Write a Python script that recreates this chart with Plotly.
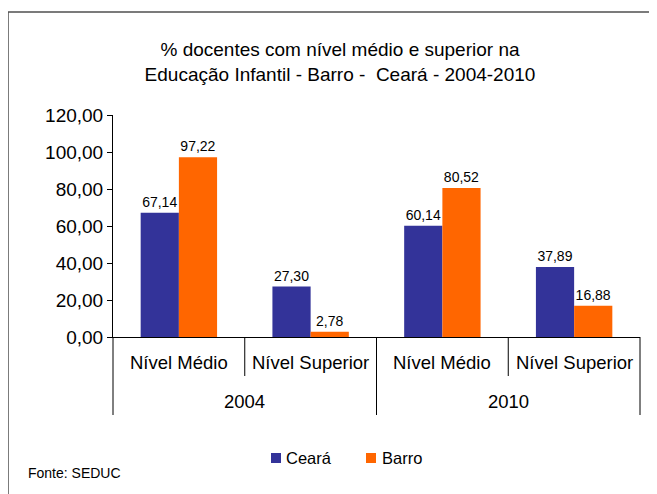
import plotly.graph_objects as go

years = ["2004", "2004", "2010", "2010"]
levels = ["Nível Médio", "Nível Superior", "Nível Médio", "Nível Superior"]
ceara = [67.14, 27.30, 60.14, 37.89]
barro = [97.22, 2.78, 80.52, 16.88]
series_names = ["Ceará", "Barro"]
colors = ["#333399", "#FF6600"]
y_ticks = [0, 20, 40, 60, 80, 100, 120]

# page is offset by the 8px body margin; positions below are given in
# screenshot pixels and converted to figure/paper coordinates
OFF = 8
W, H = 657, 494
L, R, T, B = 113 - OFF, W - (640 - OFF), 115 - OFF, H - (337 - OFF)
pw = W - L - R
ph = H - T - B


def px_x(x):
    return (x - OFF - L) / pw


def px_y(y):
    return (H - B - (y - OFF)) / ph


FONT = "Liberation Sans, Arial, sans-serif"

fig = go.Figure()
for name, vals, col in zip(series_names, [ceara, barro], colors):
    fig.add_trace(go.Bar(
        x=[years, levels], y=vals, name=name,
        marker=dict(color=col, line=dict(width=0)),
        texttemplate="%{y:.2f}", textposition="outside",
        textfont=dict(size=14, color="black", family=FONT),
        cliponaxis=False, showlegend=False,
    ))

fig.update_layout(
    width=W, height=H,
    margin=dict(l=L, r=R, t=T, b=B, autoexpand=False),
    paper_bgcolor="white", plot_bgcolor="white",
    separators=",.",
    font=dict(family=FONT, color="black"),
    barmode="group", bargap=0.42, bargroupgap=0,
    title=dict(
        text="% docentes com nível médio e superior na<br>Educação Infantil - Barro -  Ceará - 2004-2010",
        x=(340 - OFF) / W, xanchor="center", xref="container",
        y=1 - (56 - OFF) / H, yanchor="middle", yref="container",
        font=dict(size=19, family=FONT, color="black"),
    ),
    xaxis=dict(
        type="multicategory",
        showline=True, linecolor="black", linewidth=1,
        showgrid=False, showdividers=False, showticklabels=False, ticks="",
    ),
    yaxis=dict(
        range=[0, 120], tickvals=y_ticks, tickformat=".2f",
        showline=True, linecolor="black", linewidth=1,
        ticks="outside", ticklen=5, tickcolor="black",
        showgrid=False, zeroline=False,
        tickfont=dict(size=19, family=FONT, color="black"),
    ),
)

# category axis labels and dividers
n = len(levels)
for i, lab in enumerate(levels):
    fig.add_annotation(
        text=lab, xref="paper", yref="paper", x=(i + 0.5) / n, y=px_y(362),
        xanchor="center", yanchor="middle", showarrow=False,
        font=dict(size=18.5, family=FONT, color="black"),
    )
groups = []
for i, yr in enumerate(years):
    if groups and groups[-1][0] == yr:
        groups[-1][2] = i
    else:
        groups.append([yr, i, i])
for yr, i0, i1 in groups:
    fig.add_annotation(
        text=yr, xref="paper", yref="paper", x=((i0 + i1 + 1) / 2) / n, y=px_y(401),
        xanchor="center", yanchor="middle", showarrow=False,
        font=dict(size=18.5, family=FONT, color="black"),
    )
for b in range(n + 1):
    outer = b == 0 or b == n or years[b - 1] != years[b]
    fig.add_shape(
        type="line", xref="paper", yref="paper", x0=b / n, x1=b / n,
        y0=0, y1=px_y(415 if outer else 376),
        line=dict(color="black", width=1),
    )

# legend drawn by hand
leg_sq_x = [271, 366]
leg_txt_x = [284, 380]
for name, col, sx, tx in zip(series_names, colors, leg_sq_x, leg_txt_x):
    fig.add_shape(
        type="rect", xref="paper", yref="paper",
        x0=px_x(sx), x1=px_x(sx + 10), y0=px_y(463), y1=px_y(453),
        fillcolor=col, line=dict(width=0),
    )
    fig.add_annotation(
        text=name, xref="paper", yref="paper", x=px_x(tx), y=px_y(458),
        xanchor="left", yanchor="middle", showarrow=False,
        font=dict(size=16.5, family=FONT, color="black"),
    )

fig.add_annotation(
    text="Fonte: SEDUC", xref="paper", yref="paper",
    x=px_x(26), y=px_y(473), xanchor="left", yanchor="middle",
    showarrow=False, font=dict(size=14, family=FONT, color="black"),
)

fig.add_shape(
    type="rect", xref="paper", yref="paper",
    x0=px_x(8), x1=px_x(700), y0=px_y(12), y1=px_y(560),
    line=dict(color="#505050", width=1.5), fillcolor="rgba(0,0,0,0)", layer="below",
)

fig.write_html("out.html")
